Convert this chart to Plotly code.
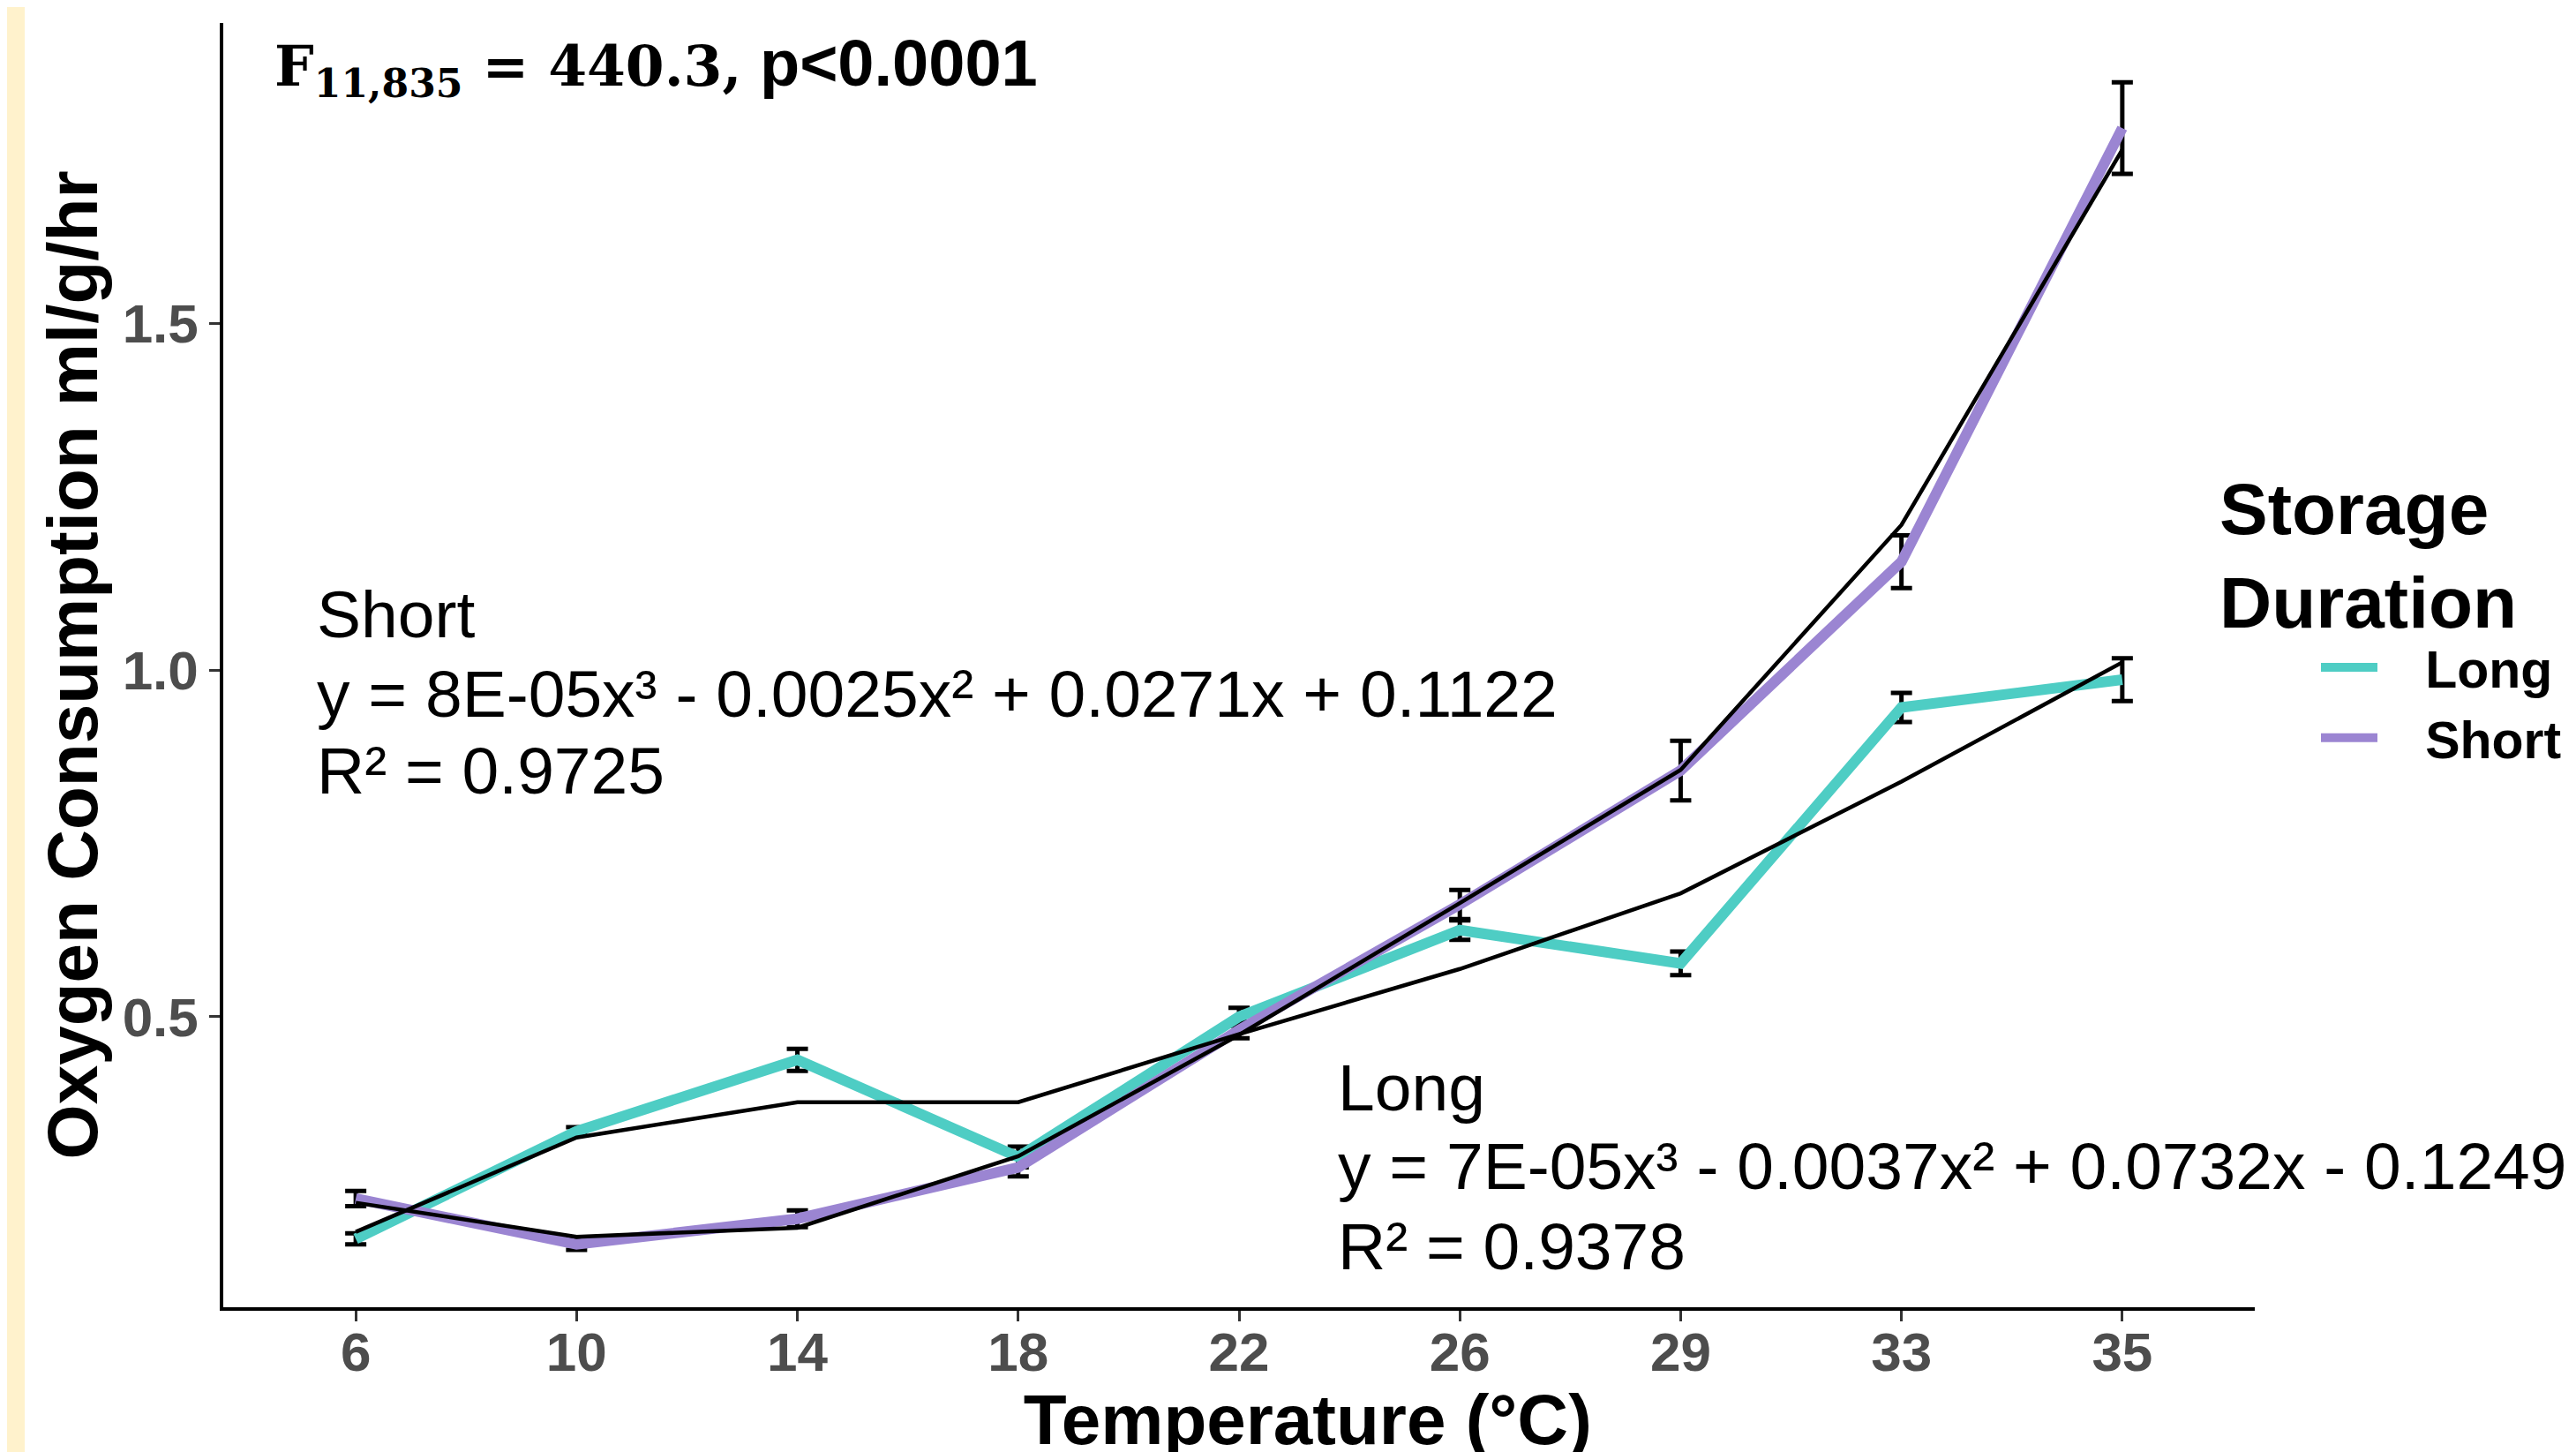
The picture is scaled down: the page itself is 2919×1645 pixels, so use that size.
import plotly.graph_objects as go

# ---------------- data ----------------
temps = ["6", "10", "14", "18", "22", "26", "29", "33", "35"]

long_mean = [0.180, 0.335, 0.438, 0.298, 0.500, 0.625, 0.577, 0.946, 0.986]
long_err = [0.008, 0.006, 0.016, 0.015, 0.013, 0.014, 0.017, 0.021, 0.031]
short_mean = [0.238, 0.172, 0.209, 0.283, 0.481, 0.662, 0.855, 1.156, 1.781]
short_err = [0.011, 0.008, 0.012, 0.013, 0.012, 0.021, 0.043, 0.038, 0.066]

long_fit = [0.190, 0.326, 0.377, 0.377, 0.475, 0.569, 0.678, 0.839, 1.011]
short_fit = [0.232, 0.183, 0.196, 0.299, 0.474, 0.664, 0.856, 1.209, 1.750]

series_names = ["Long", "Short"]
series_colors = ["#4ECDC4", "#9B85D2"]

y_tick_vals = [0.5, 1.0, 1.5]
y_tick_text = ["0.5", "1.0", "1.5"]

short_eq = ["Short", "y = 8E-05x³ - 0.0025x² + 0.0271x + 0.1122", "R² = 0.9725"]
long_eq = ["Long", "y = 7E-05x³ - 0.0037x² + 0.0732x - 0.1249", "R² = 0.9378"]

# ---------------- layout geometry (pixels) ----------------
W, H = 2919, 1645
L, R, T, B = 245, 2547, 18, 1473


def px(x):
    return (x - L) / (R - L)


def py(y):
    return (B - y) / (B - T)


SANS = "Liberation Sans, Arial, sans-serif"

fig = go.Figure()

# error bars (drawn first, beneath the lines)
for mean, err in [(long_mean, long_err), (short_mean, short_err)]:
    fig.add_trace(go.Scatter(
        x=temps, y=mean, mode="markers",
        marker=dict(size=1, opacity=0),
        error_y=dict(type="data", array=err, color="black", thickness=5, width=12),
        showlegend=False, hoverinfo="skip"))

# mean lines
for name, col, mean in zip(series_names, series_colors, [long_mean, short_mean]):
    fig.add_trace(go.Scatter(
        x=temps, y=mean, mode="lines", name="&nbsp;&nbsp;&nbsp;" + name,
        line=dict(color=col, width=12)))

# fitted trend lines
for fit in [long_fit, short_fit]:
    fig.add_trace(go.Scatter(
        x=temps, y=fit, mode="lines", showlegend=False, hoverinfo="skip",
        line=dict(color="black", width=4.5)))

annotations = []
# F statistic
annotations.append(dict(
    xref="paper", yref="paper", x=px(301), y=py(20), xanchor="left", yanchor="top",
    showarrow=False,
    text="<b><span style=\"font-family:DejaVu Serif;font-size:63px\">F<sub>11,835</sub> = 440.3,</span> p&lt;0.0001</b>",
    font=dict(family=SANS, size=74, color="black")))


def add_block(lines, x_left, baselines, fs=75):
    for txt, bl in zip(lines, baselines):
        annotations.append(dict(
            xref="paper", yref="paper", x=px(x_left), y=py(bl - 0.35 * fs),
            xanchor="left", yanchor="middle", showarrow=False, text=txt,
            font=dict(family=SANS, size=fs, color="black")))


add_block(short_eq, 349, [714, 804, 891])
add_block(long_eq, 1506, [1250, 1339, 1430])

shapes = [dict(type="rect", xref="paper", yref="paper", x0=px(0), x1=px(20),
               y0=py(H), y1=py(0), fillcolor="#FFF2CC", line=dict(width=0), layer="below")]

fig.update_layout(
    width=W, height=H,
    margin=dict(l=L, r=W - R, t=T, b=H - B, autoexpand=False),
    paper_bgcolor="white", plot_bgcolor="white",
    font=dict(family=SANS, color="black"),
    xaxis=dict(
        type="category", range=[-0.6, 8.6], showgrid=False, zeroline=False,
        showline=True, linecolor="black", linewidth=3.5,
        ticks="outside", ticklen=12, tickwidth=2.5, tickcolor="#333333",
        ticklabelstandoff=-18,
        tickfont=dict(family=SANS, size=62, color="#4D4D4D", weight="bold"),
        title=dict(text="&nbsp;" * 7 + "Temperature (°C)",
                   font=dict(family=SANS, size=80, color="black", weight="bold"),
                   standoff=27)),
    yaxis=dict(
        range=[0.0814, 1.9326], showgrid=False, zeroline=False,
        tickvals=y_tick_vals, ticktext=y_tick_text,
        showline=True, linecolor="black", linewidth=3.5,
        ticks="outside", ticklen=12, tickwidth=2.5, tickcolor="#333333",
        tickfont=dict(family=SANS, size=62, color="#4D4D4D", weight="bold"),
        title=dict(text="Oxygen Consumption ml/g/hr",
                   font=dict(family=SANS, size=80, color="black", weight="bold"),
                   standoff=3)),
    legend=dict(
        x=px(2505), y=py(490), xanchor="left", yanchor="top",
        bgcolor="rgba(0,0,0,0)", borderwidth=0,
        title=dict(text="<b>Storage<br>Duration</b>", side="top",
                   font=dict(family=SANS, size=82, color="black")),
        font=dict(family=SANS, size=59, color="black", weight="bold"),
        indentation=112, itemwidth=64, tracegroupgap=0),
    annotations=annotations,
    shapes=shapes,
)

fig.write_html("out.html")
